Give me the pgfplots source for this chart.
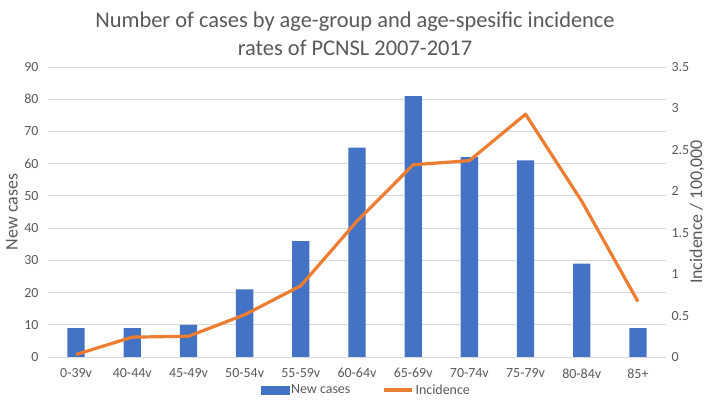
\documentclass[border=0pt]{standalone}
\usepackage{pgfplots}
\pgfplotsset{compat=1.18}
\usepackage{fontspec}
\setmainfont{Carlito}
\definecolor{barblue}{HTML}{4472C4}
\definecolor{lineorange}{HTML}{ED7D31}
\definecolor{gridgray}{HTML}{D9D9D9}
\definecolor{textgray}{HTML}{595959}

\begin{document}
\begin{tikzpicture}
\useasboundingbox (-48bp,-49bp) rectangle (662bp,357bp);
\pgfplotsset{
  every axis/.append style={
    scale only axis, width=618bp, height=290bp,
    xmin=-0.5, xmax=10.5,
    /pgf/number format/assume math mode=true,
    tick style={draw=none},
    axis line style={draw=none},
    tick label style={text=textgray, font=\fontsize{14}{16}\selectfont},
  }
}
\begin{axis}[
  ymin=0, ymax=90, ytick={0,10,...,90},
  xtick={0,...,10},
  xticklabels={0-39v,40-44v,45-49v,50-54v,55-59v,60-64v,65-69v,70-74v,75-79v,80-84v,85+},
  xticklabel style={yshift=-8bp},
  yticklabel style={xshift=-6bp},
  ymajorgrids, grid style={gridgray, line width=0.8pt},
  ylabel={New cases},
  every axis y label/.style={at={(rel axis cs:0,0.5)}, xshift=-36bp, rotate=90,
    anchor=center, text=textgray, font=\fontsize{18}{20}\selectfont},
]
\addplot[ybar, bar width=17.3bp, bar shift=0pt, fill=barblue, draw=none]
  coordinates {(0,9) (1,9) (2,10) (3,21) (4,36) (5,65) (6,81) (7,62) (8,61) (9,29) (10,9)};
\draw[gridgray!80!black, line width=0.8pt] (axis cs:-0.5,0) -- (axis cs:10.5,0);
\end{axis}
\begin{axis}[
  ymin=0, ymax=3.5, ytick={0,0.5,...,3.5},
  xtick=\empty,
  yticklabel pos=right,
  yticklabel style={xshift=2bp},
  ylabel={Incidence / 100,000},
  every axis y label/.style={at={(rel axis cs:1,0.5)}, xshift=31bp, rotate=90,
    anchor=center, text=textgray, font=\fontsize{18}{20}\selectfont},
  legend columns=2,
  legend style={at={(0.515,-0.114)}, anchor=center, draw=none, fill=none,
    font=\fontsize{14}{16}\selectfont, text=textgray,
    /tikz/every even column/.append style={column sep=30bp}},
]
\addlegendimage{legend image code/.code={\fill[barblue] (0bp,-4bp) rectangle (28bp,4bp);}}
\addlegendentry{New cases}
\addplot[lineorange, line width=3.2bp, line join=round,
  legend image code/.code={\draw[lineorange, line width=3.2bp] (0bp,0bp) -- (28bp,0bp);}]
  coordinates {(0,0.03) (1,0.24) (2,0.25) (3,0.51) (4,0.86) (5,1.64) (6,2.32) (7,2.37) (8,2.93) (9,1.88) (10,0.67)};
\addlegendentry{Incidence}
\end{axis}
\node[align=center, text=textgray, font=\fontsize{22.5}{28}\selectfont] at (307bp,323bp)
  {Number of cases by age-group and age-spesific incidence\\rates of PCNSL 2007-2017};
\end{tikzpicture}
\end{document}
